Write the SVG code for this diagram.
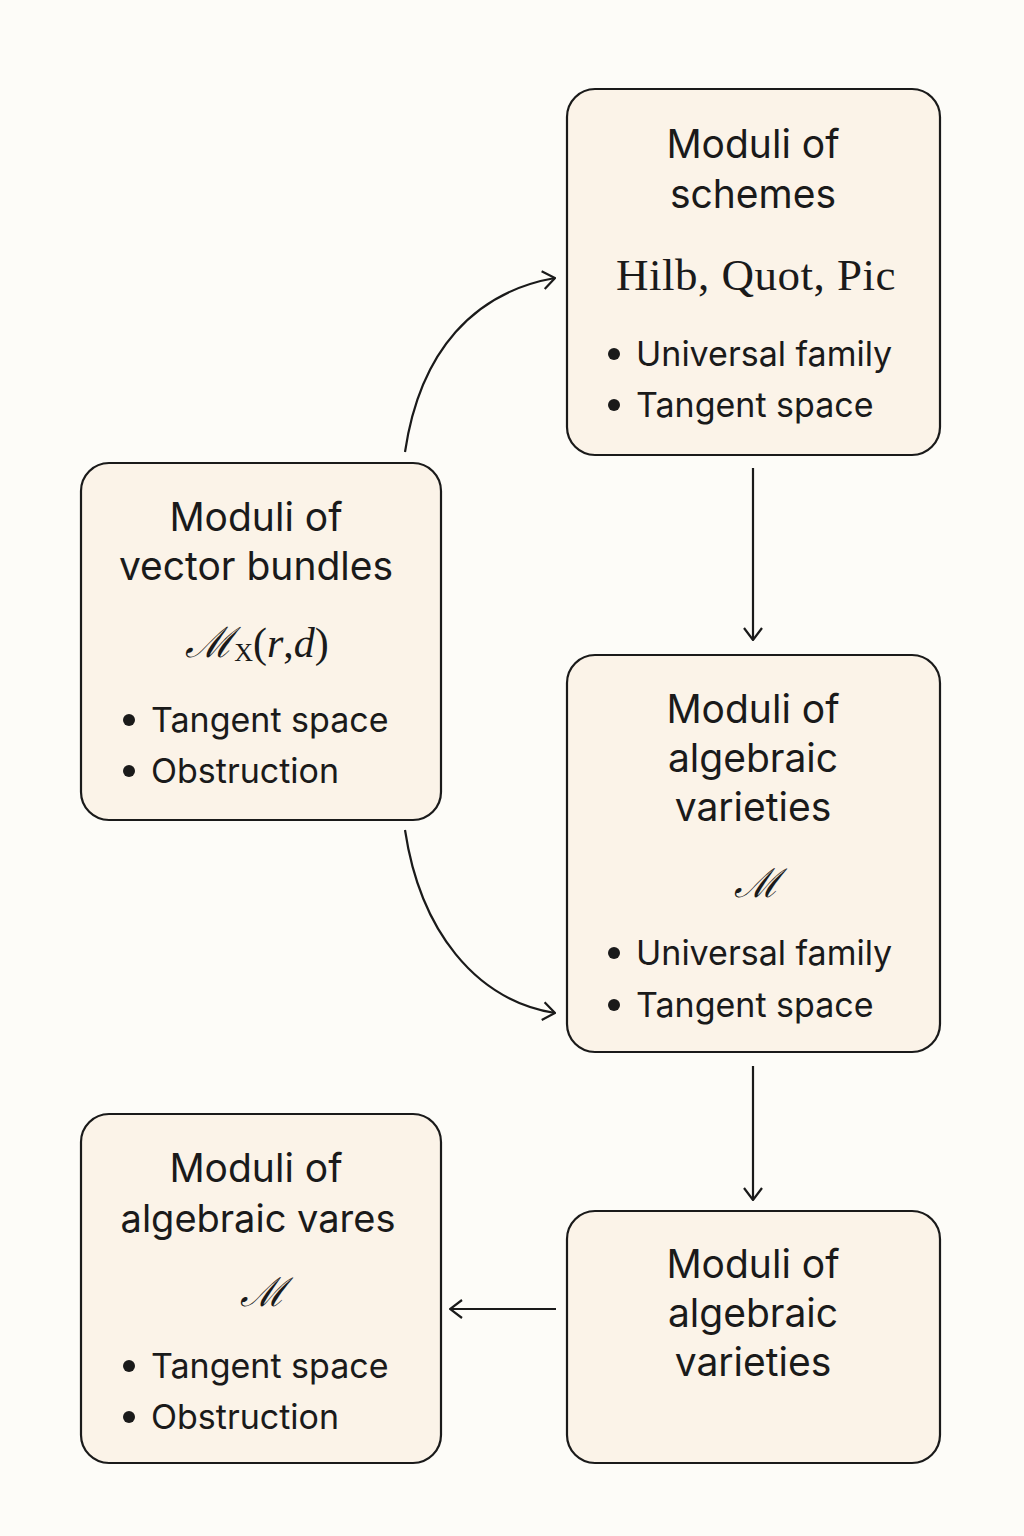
<svg xmlns="http://www.w3.org/2000/svg" width="1024" height="1536" viewBox="0 0 1024 1536">
<defs>
<style>
.box{fill:#fbf3e8;stroke:#1a1a1a;stroke-width:2.2}
.t{font-family:Inter,"Liberation Sans",sans-serif;font-size:39px;fill:#1a1a1a;text-anchor:middle}
.b{font-family:Inter,"Liberation Sans",sans-serif;font-size:34px;fill:#1a1a1a}
.m{font-family:"Liberation Serif",serif;font-size:40px;fill:#1a1a1a;text-anchor:middle}
.mi{font-family:"Liberation Serif",serif;font-style:italic}
.sc{font-family:"DejaVu Serif",serif;font-style:italic}
.c{fill:none;stroke:#1a1a1a;stroke-width:2.2}
</style>
<marker id="ah" viewBox="0 0 14 20" refX="13" refY="10" markerWidth="14" markerHeight="20" markerUnits="userSpaceOnUse" orient="auto">
<path d="M1,1 L13,10 L1,19" fill="none" stroke="#1a1a1a" stroke-width="2.2"/>
</marker>
</defs>
<rect width="1024" height="1536" fill="#fdfcf8"/>

<g id="schemes">
<rect class="box" x="567" y="89" width="373" height="366" rx="28"/>
<text class="t" x="753" y="158">Moduli of</text>
<text class="t" x="753" y="208">schemes</text>
<text class="m" x="756" y="290" style="font-size:45px;letter-spacing:0.5px">Hilb, Quot, Pic</text>
<circle cx="614" cy="354" r="6" fill="#1a1a1a"/>
<text class="b" x="636" y="366">Universal family</text>
<circle cx="614" cy="405" r="6" fill="#1a1a1a"/>
<text class="b" x="636" y="417">Tangent space</text>
</g>

<g id="vector-bundles">
<rect class="box" x="81" y="463" width="360" height="357" rx="28"/>
<text class="t" x="256" y="531">Moduli of</text>
<text class="t" x="256" y="580">vector bundles</text>
<text class="m" x="257" y="657" style="font-size:42px"><tspan class="sc">ℳ</tspan><tspan style="font-size:26px" dy="4">X</tspan><tspan dy="-4">(</tspan><tspan class="mi">r</tspan>,<tspan class="mi">d</tspan>)</text>
<circle cx="129" cy="720" r="6" fill="#1a1a1a"/>
<text class="b" x="151" y="732">Tangent space</text>
<circle cx="129" cy="771" r="6" fill="#1a1a1a"/>
<text class="b" x="151" y="783">Obstruction</text>
</g>

<g id="varieties-mid">
<rect class="box" x="567" y="655" width="373" height="397" rx="28"/>
<text class="t" x="753" y="723">Moduli of</text>
<text class="t" x="753" y="772">algebraic</text>
<text class="t" x="753" y="821">varieties</text>
<text class="m" x="757" y="897"><tspan class="sc">ℳ</tspan></text>
<circle cx="614" cy="953" r="6" fill="#1a1a1a"/>
<text class="b" x="636" y="965">Universal family</text>
<circle cx="614" cy="1005" r="6" fill="#1a1a1a"/>
<text class="b" x="636" y="1017">Tangent space</text>
</g>

<g id="varieties-left">
<rect class="box" x="81" y="1114" width="360" height="349" rx="28"/>
<text class="t" x="256" y="1182">Moduli of</text>
<text class="t" x="258" y="1232" style="font-size:38px">algebraic vares</text>
<text class="m" x="263" y="1306"><tspan class="sc">ℳ</tspan></text>
<circle cx="129" cy="1366" r="6" fill="#1a1a1a"/>
<text class="b" x="151" y="1378">Tangent space</text>
<circle cx="129" cy="1417" r="6" fill="#1a1a1a"/>
<text class="b" x="151" y="1429">Obstruction</text>
</g>

<g id="varieties-bottom">
<rect class="box" x="567" y="1211" width="373" height="252" rx="28"/>
<text class="t" x="753" y="1278">Moduli of</text>
<text class="t" x="753" y="1327">algebraic</text>
<text class="t" x="753" y="1376">varieties</text>
</g>

<g id="connectors">
<path class="c" d="M405,452 C420,350 475,292 555,278" marker-end="url(#ah)"/>
<path class="c" d="M753,468 L753,640" marker-end="url(#ah)"/>
<path class="c" d="M405,830 C420,930 475,1000 555,1013" marker-end="url(#ah)"/>
<path class="c" d="M753,1066 L753,1200" marker-end="url(#ah)"/>
<path class="c" d="M556,1309 L450,1309" marker-end="url(#ah)"/>
</g>
</svg>
